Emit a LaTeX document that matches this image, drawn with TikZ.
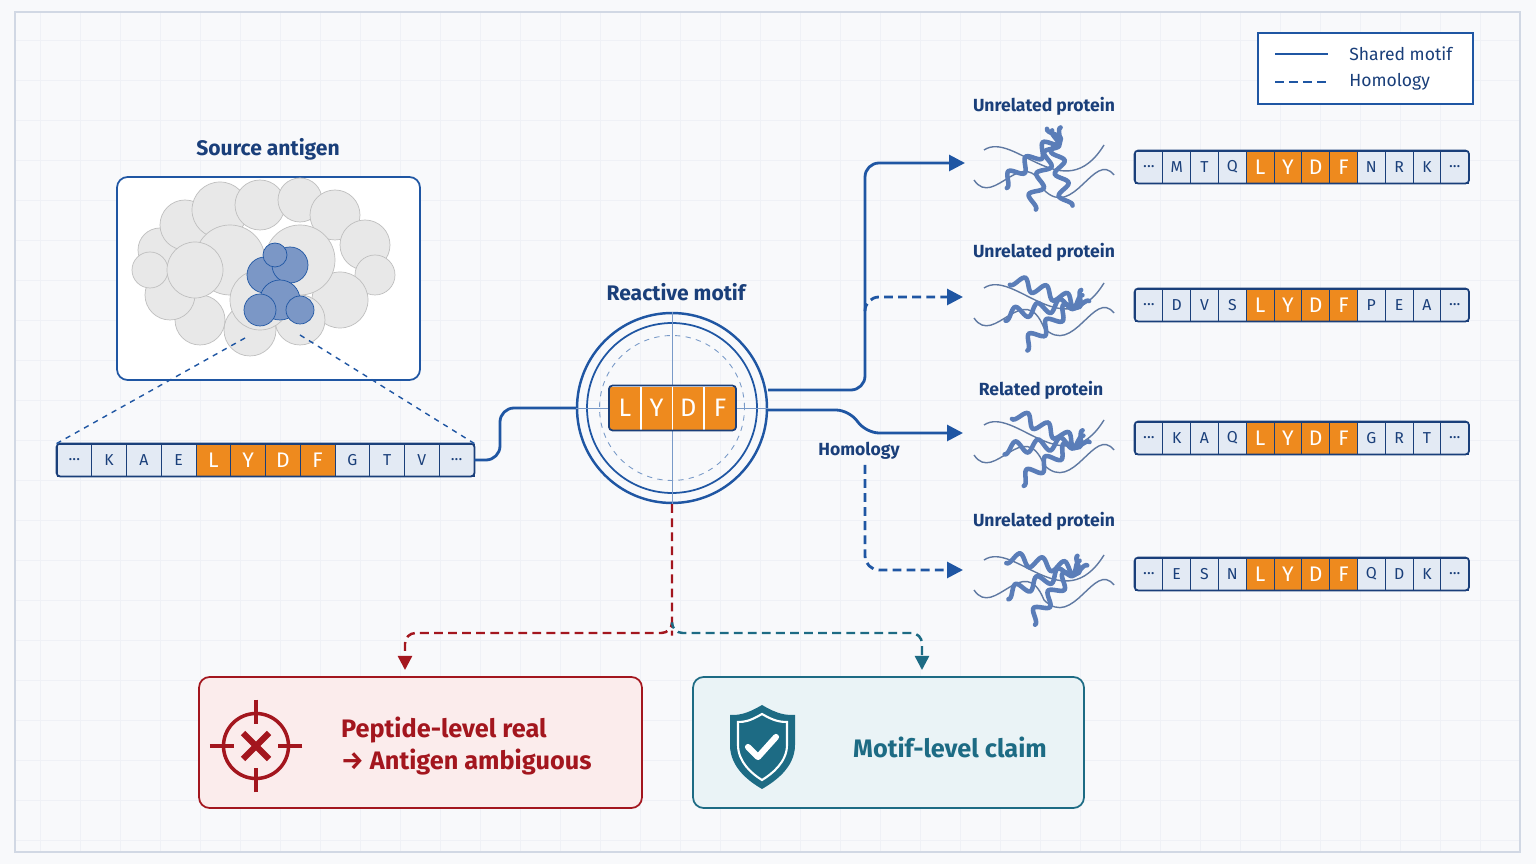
\documentclass[tikz,border=0pt]{standalone}
\usepackage{fontspec}
\setmainfont{Fira Sans}
\usetikzlibrary{positioning, arrows.meta}
\definecolor{navy}{HTML}{1A3F7A}
\definecolor{lineblue}{HTML}{1F56A3}
\definecolor{cellblue}{HTML}{E3EAF4}
\definecolor{motif}{HTML}{EE8A1E}
\definecolor{redd}{HTML}{A3161E}
\definecolor{redbg}{HTML}{FBECEC}
\definecolor{teal}{HTML}{1D6B84}
\definecolor{tealbg}{HTML}{EAF3F6}
\definecolor{protblue}{HTML}{5A7DB8}
\newcommand\seqdots{...}
\tikzset{
  cell/.style={draw=navy, line width=0.5pt, fill=cellblue, minimum height=0.64cm, inner sep=0pt, font=\small, text=navy},
  motifcell/.style={cell, fill=motif, text=white, font=\large},
  title/.style={font=\bfseries\large, text=navy},
  plabel/.style={font=\bfseries, text=navy},
  link/.style={lineblue, line width=1.6pt, -{Triangle[length=9pt,width=9pt]}, rounded corners=8pt},
  homol/.style={link, dashed, dash pattern=on 5pt off 3pt},
  protein/.style={protblue, line width=2.6pt, line cap=round},
  coilline/.style={navy!70, line width=0.8pt}
}
% sequence bar: name, left x, centre y, cell width, letters
\newcommand\seqbar[5]{%
  \foreach \s [count=\i] in {#5} {%
    \ifnum\i>4 \ifnum\i<9 \def\st{motifcell}\else\def\st{cell}\fi\else\def\st{cell}\fi
    \node[\st, minimum width={#4*0.02cm}] (#1-\i) at ({#2+(\i-0.5)*#4},#3) {\s};
  }
  \draw[navy, line width=1pt, rounded corners=2pt] (#1-1.north west) rectangle (#1-12.south east);
}
% ribbon protein: centre x, centre y, angle
\newcommand\ribbon[3]{%
  \begin{scope}[shift={(#1,#2)}]
    \draw[coilline] (-70,10) .. controls (-50,40) and (-20,-30) .. (0,20) .. controls (30,50) and (50,-20) .. (70,5);
    \draw[coilline] (-60,-20) .. controls (-30,-40) and (20,40) .. (60,-25);
    \foreach \r in {0,1,2} {
      \draw[protein, rotate=#3+\r*30] plot[domain=-40:40, samples=60] (\x, {6*sin(\x*16)+(\r-1)*16});
    }
  \end{scope}
}
\begin{document}
\begin{tikzpicture}[x=0.02cm, y=-0.02cm]
\useasboundingbox (0,0) rectangle (1536,864);
\fill[navy!3] (0,0) rectangle (1536,864);
\foreach \gx in {40,80,...,1520} \draw[navy!7, line width=0.3pt] (\gx,12) -- (\gx,852);
\foreach \gy in {40,80,...,840} \draw[navy!7, line width=0.3pt] (15,\gy) -- (1520,\gy);
\draw[navy!20, line width=0.6pt] (15,12) rectangle (1520,852);

% legend
\node[draw=lineblue, line width=0.8pt, fill=white, minimum width=4.3cm, minimum height=1.42cm] (legend) at (1365.5,68.5) {};
\coordinate (l1) at (1275,54);
\coordinate (l2) at (1275,82);
\draw[lineblue, line width=1.6pt] (l1) -- ++(53,0) node[right=8pt, text=navy] {Shared motif};
\draw[lineblue, line width=1.6pt, dash pattern=on 5pt off 3pt] (l2) -- ++(53,0) node[right=8pt, text=navy] {Homology};

% source antigen
\node[title] (srctitle) at (268,149) {Source antigen};
\node[draw=lineblue, line width=1pt, fill=white, rounded corners=6pt, minimum width=6.06cm, minimum height=4.06cm] (srcbox) at (268.5,278.5) {};
\foreach \cx/\cy/\cr in {160/250/22,185/225/25,220/210/28,260/205/25,300/200/22,335/215/25,365/245/25,375/275/20,340/300/28,300/320/25,250/330/26,200/320/25,170/295/25,150/270/18,230/260/35,300/260/35,260/300/30,195/270/28}
  \fill[gray!18, draw=gray!50, line width=0.4pt] (\cx,\cy) circle (\cr);
\foreach \cx/\cy/\cr in {265/275/18,290/265/18,280/300/20,260/310/16,300/310/14,275/255/12}
  \fill[protblue!80, draw=lineblue, line width=0.4pt] (\cx,\cy) circle (\cr);
\coordinate (cutl) at (245,338);
\coordinate (cutr) at (300,335);

% source sequence
\seqbar{src}{57}{460}{34.75}{\seqdots,K,A,E,L,Y,D,F,G,T,V,\seqdots}
\draw[lineblue, dashed, line width=0.8pt] (cutl) -- (src-1.north west);
\draw[lineblue, dashed, line width=0.8pt] (cutr) -- (src-12.north east);

% reactive motif
\node[title] (motiftitle) at (676,292) {Reactive motif};
\node[circle, draw=lineblue, line width=1.4pt, minimum size=3.8cm] (ring) at (672,408) {};
\node[circle, draw=lineblue, line width=1pt, minimum size=3.4cm] (ringin) at (672,408) {};
\node[circle, draw=lineblue!60, dashed, line width=0.5pt, minimum size=2.9cm] at (672,408) {};
\draw[lineblue!60, line width=0.5pt] (ring.north) -- (ring.south) (ring.west) -- (ring.east);
\foreach \m [count=\i] in {L,Y,D,F}
  \node[motifcell, font=\Large, minimum width=0.62cm, minimum height=0.88cm, draw=white] (mot-\i) at ({609+(\i-0.5)*31.75},408) {\m};
\draw[navy, line width=1pt, rounded corners=2pt] (mot-1.north west) rectangle (mot-4.south east);

\draw[lineblue, line width=1.6pt, rounded corners=8pt] (src-12.east) -- (500,460) -- (500,408) -- (ring.west);

% targets
\node[plabel] (lab1) at (1044,106) {Unrelated protein};
\node[plabel] (lab2) at (1044,252) {Unrelated protein};
\node[plabel] (lab3) at (1041,390) {Related protein};
\node[plabel] (lab4) at (1044,521) {Unrelated protein};
\ribbon{1044}{170}{40}
\ribbon{1044}{308}{-20}
\ribbon{1044}{445}{-25}
\ribbon{1044}{580}{-10}
\coordinate (t1) at (965,163);
\coordinate (t2) at (963,297);
\coordinate (t3) at (963,433);
\coordinate (t4) at (963,570);
\seqbar{s1}{1135}{167}{27.8}{\seqdots,M,T,Q,L,Y,D,F,N,R,K,\seqdots}
\seqbar{s2}{1135}{305}{27.8}{\seqdots,D,V,S,L,Y,D,F,P,E,A,\seqdots}
\seqbar{s3}{1135}{438}{27.8}{\seqdots,K,A,Q,L,Y,D,F,G,R,T,\seqdots}
\seqbar{s4}{1135}{574}{27.8}{\seqdots,E,S,N,L,Y,D,F,Q,D,K,\seqdots}

\draw[link] (ring.east |- 0,390) -- (865,390) -- (865,163) -- (t1);
\draw[homol] (865,310) -- (865,297) -- (t2);
\draw[link] (ring.east |- 0,410) -- (850,410) -- (865,433) -- (t3);
\draw[homol] (865,465) -- (865,570) -- (t4);
\node[plabel] (homlab) at (859,451) {Homology};

% outcomes
\node[draw=redd, line width=1pt, fill=redbg, rounded corners=6pt, minimum width=8.86cm, minimum height=2.62cm] (claimA) at (420.5,742.5) {};
\node[draw=teal, line width=1pt, fill=tealbg, rounded corners=6pt, minimum width=7.82cm, minimum height=2.62cm] (claimB) at (888.5,742.5) {};
\coordinate (split) at (672,625);
\draw[redd, line width=1.4pt, dash pattern=on 5pt off 3pt, rounded corners=6pt, -{Triangle[length=8pt,width=8pt]}] (ring.south) -- (split) -- (672,633) -- (405,633) -- (405,670);
\draw[teal, line width=1.4pt, dash pattern=on 5pt off 3pt, rounded corners=6pt, -{Triangle[length=8pt,width=8pt]}] (split) -- (672,633) -- (922,633) -- (922,670);

% crosshair icon
\node[circle, draw=redd, line width=2pt, minimum size=1.3cm] (cross) at (256,746) {};
\draw[redd, line width=1.8pt] (cross.north) ++(0,-12) -- ++(0,24) (cross.south) ++(0,12) -- ++(0,-24)
  (cross.west) ++(-12,0) -- ++(24,0) (cross.east) ++(12,0) -- ++(-24,0);
\draw[redd, line width=3.5pt] (243,733) -- (269,759) (243,759) -- (269,733);
\node[font=\bfseries\Large, text=redd, align=left, anchor=west] (claimAtxt) at (335,746) {Peptide-level real\\→ Antigen ambiguous};

% shield icon
\fill[teal] (762,705) .. controls (745,715) and (738,715) .. (730,715) -- (730,745) .. controls (730,768) and (750,782) .. (762,789) .. controls (774,782) and (795,768) .. (795,745) -- (795,715) .. controls (786,715) and (779,715) .. (762,705) -- cycle;
\draw[white, line width=1.2pt] (762,714) .. controls (750,721) and (745,722) .. (738,722) -- (738,745) .. controls (738,762) and (752,774) .. (762,780) .. controls (772,774) and (787,762) .. (787,745) -- (787,722) .. controls (780,722) and (774,721) .. (762,714) -- cycle;
\draw[white, line width=3.5pt, line cap=round, line join=round] (748,747) -- (758,757) -- (776,737);
\node[font=\bfseries\Large, text=teal] (claimBtxt) at (950,747) {Motif-level claim};
\end{tikzpicture}
\end{document}
